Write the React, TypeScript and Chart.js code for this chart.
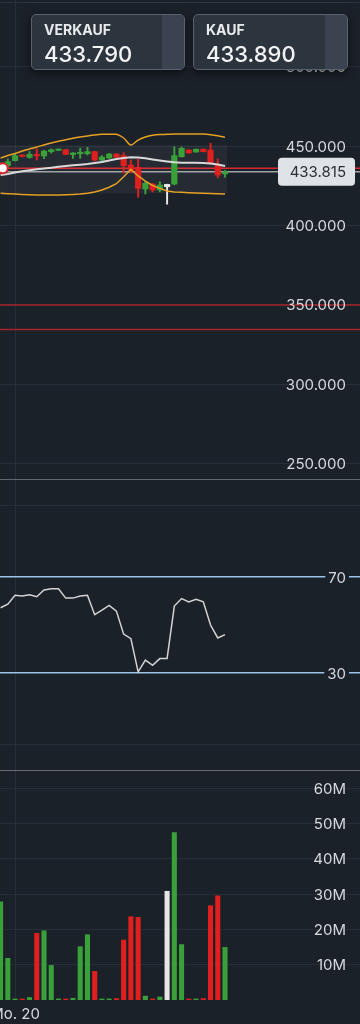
import React, { useEffect, useRef } from 'react';
import { Chart, registerables } from 'chart.js';

Chart.register(...registerables);

// ---------- data ----------
const candleOpen = [436.2, 437.7, 440.8, 444.1, 442.9, 444.7, 443.8, 446.5, 447.3, 447.7, 444.7, 445.2, 445.2, 446.5, 441.2, 442.5, 445.0, 444.0, 438.1, 436.7, 423.0, 426.1, 422.4, 424.4, 426.1, 443.3, 447.5, 446.3, 448.0, 447.5, 438.1, 432.5];
const candleClose = [438.1, 440.2, 444.0, 443.5, 444.8, 443.8, 446.9, 447.7, 447.4, 444.8, 445.7, 446.1, 446.5, 441.2, 443.1, 445.0, 442.9, 437.7, 435.0, 423.4, 426.6, 422.4, 425.5, 425.9, 444.0, 448.6, 445.7, 448.0, 446.5, 439.2, 431.8, 433.9];
const candleHigh = [439.4, 441.9, 445.0, 444.5, 446.5, 448.2, 447.4, 448.2, 447.6, 448.0, 445.9, 448.8, 449.2, 446.8, 444.0, 445.4, 445.2, 445.8, 441.2, 441.7, 427.6, 426.4, 427.6, 426.0, 449.6, 449.4, 447.8, 448.2, 448.3, 451.8, 441.9, 434.6];
const candleLow = [434.3, 436.4, 440.6, 443.2, 442.3, 441.2, 442.1, 445.6, 447.1, 444.6, 442.2, 442.3, 444.4, 440.6, 440.6, 442.3, 442.7, 432.9, 433.1, 417.8, 419.8, 421.1, 421.1, 413.4, 425.5, 443.1, 445.5, 446.1, 446.3, 438.7, 430.1, 430.5];

const bollingerUpper = [442.5, 444.1, 445.3, 446.9, 448.2, 449.4, 450.7, 452.0, 453.0, 454.0, 454.9, 455.7, 456.4, 457.0, 457.4, 457.4, 457.4, 455.1, 450.7, 453.8, 455.7, 456.8, 457.3, 457.4, 457.6, 457.6, 457.6, 457.6, 457.6, 457.2, 456.5, 455.5];
const bollingerMiddle = [431.8, 432.5, 433.4, 434.1, 434.8, 435.4, 435.9, 436.4, 437.0, 437.5, 437.9, 438.3, 438.7, 439.4, 440.0, 440.9, 441.9, 442.5, 442.9, 442.8, 442.3, 441.6, 440.9, 440.3, 439.8, 439.5, 439.5, 439.5, 439.4, 439.0, 438.4, 437.5];
const bollingerLower = [420.3, 420.0, 419.8, 419.6, 419.4, 419.2, 419.2, 419.2, 419.2, 419.4, 419.6, 419.8, 420.3, 421.1, 422.4, 424.1, 426.3, 430.7, 435.4, 431.2, 428.0, 425.2, 423.4, 421.7, 421.1, 420.9, 420.7, 420.5, 420.3, 420.2, 420.0, 419.8];

const rsiValues = [57.2, 58.7, 62.4, 62.1, 62.6, 61.8, 64.6, 65.1, 65.1, 61.2, 61.2, 62.1, 62.4, 54.3, 56.2, 58.2, 55.8, 46.2, 44.3, 30.5, 35.4, 33.2, 36.0, 36.0, 57.9, 61.0, 59.6, 60.7, 59.7, 50.0, 44.6, 46.0];

const volumeMillions = [27.8, 11.8, 0.3, 0.3, 0.7, 18.9, 19.6, 9.8, 0.3, 0.3, 0.5, 15.1, 18.5, 8.1, 0.3, 0.3, 0.4, 17.0, 23.6, 23.4, 1.1, 0.3, 0.85, 30.8, 47.4, 15.7, 0.3, 0.3, 0.4, 26.7, 29.5, 14.9];

const selectedIndex = 23;

const priceTicks = [250, 300, 350, 400, 450, 500];
const rsiTicks = [0, 30, 70, 100];
const rsiLabelled = [30, 70];
const volumeTicks = [10, 20, 30, 40, 50, 60];

const xTickIndex = [2];
const xTickLabels = ['Mo. 20'];

const levelValues = [436.0, 433.815, 350.0, 334.5];
const lastPrice = 433.815;
const markerPoint = [{ x: 0.3, y: 436.0 }];

const bandBoxFrom = -0.5;
const bandBoxTo = 31.3;
const bandBoxTop = 450.6;
const bandBoxBottom = 420.3;

const quoteLabels = ['VERKAUF', 'KAUF'];
const quoteValues = ['433.790', '433.890'];

// ---------- styles ----------
const BG = '#1b2129';
const GRID = '#272e37';
const TICK = '#d6d9dd';
const GREEN = '#3aa13a';
const RED = '#e0201f';
const WHITE = '#e6e6e6';
const ORANGE = '#e6a124';
const FONT = 'Inter, "Noto Sans", sans-serif';
const levelColors = ['#d9262c', '#9ea3a8', '#a8222a', '#a8222a'];

const X_MIN = -0.0787;
const X_MAX = 49.646;

const candleColor = (i: number) =>
  i === selectedIndex ? WHITE : candleClose[i] >= candleOpen[i] ? GREEN : RED;

const noPad = (s: any) => {
  s.paddingLeft = 0;
  s.paddingRight = 0;
  s.paddingTop = 0;
  s.paddingBottom = 0;
};

const xScale = (showLabels: boolean, height: number) => ({
  type: 'linear',
  min: X_MIN,
  max: X_MAX,
  offset: false,
  position: 'bottom',
  afterBuildTicks: (s: any) => { s.ticks = xTickIndex.map((v) => ({ value: v })); },
  afterFit: (s: any) => { s.height = height; noPad(s); },
  grid: { color: GRID, lineWidth: 1, drawTicks: false, offset: false },
  border: { display: false },
  ticks: {
    display: showLabels,
    color: TICK,
    font: { family: FONT, size: 15 },
    padding: 5,
    maxRotation: 0,
    autoSkip: false,
    callback: (v: any) => {
      const k = xTickIndex.indexOf(Number(v));
      return k >= 0 ? xTickLabels[k] : '';
    },
  },
});

const yScale = (min: number, max: number, ticks: number[], grid: any) => ({
  type: 'linear',
  position: 'right',
  min,
  max,
  afterFit: (s: any) => { s.width = 0; noPad(s); },
  afterBuildTicks: (s: any) => { s.ticks = ticks.map((v) => ({ value: v })); },
  grid: { drawTicks: false, ...grid },
  border: { display: false },
  ticks: { display: false },
});

// draws the y-scale tick labels inside the plot, right aligned, like the app does
const makeYLabelPlugin = (format: (v: number) => string, show: (v: number) => boolean, backdrop: boolean) => ({
  id: 'yLabels',
  beforeDatasetsDraw(chart: any) {
    const { ctx, chartArea, scales } = chart;
    const y = scales.y;
    ctx.save();
    ctx.font = `15px ${FONT}`;
    ctx.textAlign = 'right';
    ctx.textBaseline = 'middle';
    y.ticks.forEach((t: any) => {
      if (!show(t.value)) return;
      const py = y.getPixelForValue(t.value);
      const text = format(t.value);
      const xr = chartArea.right - 14;
      if (backdrop) {
        const w = ctx.measureText(text).width;
        ctx.fillStyle = BG;
        ctx.fillRect(xr - w - 3, py - 8, w + 6, 16);
      }
      ctx.fillStyle = TICK;
      ctx.fillText(text, xr, py + 1);
    });
    ctx.restore();
  },
});

const levelPlugin = {
  id: 'levels',
  beforeDatasetsDraw(chart: any) {
    const { ctx, chartArea, scales } = chart;
    ctx.save();
    levelValues.forEach((v, i) => {
      const y = scales.y.getPixelForValue(v);
      ctx.strokeStyle = levelColors[i];
      ctx.lineWidth = 1.5;
      ctx.beginPath();
      ctx.moveTo(chartArea.left, y);
      ctx.lineTo(chartArea.right, y);
      ctx.stroke();
    });
    ctx.restore();
  },
};

const priceTagPlugin = {
  id: 'priceTag',
  afterDraw(chart: any) {
    const { ctx, chartArea, scales } = chart;
    const y = scales.y.getPixelForValue(lastPrice);
    const right = chartArea.right - 5;
    const left = chartArea.right - 82;
    const h = 28;
    ctx.save();
    ctx.fillStyle = '#dfe2e6';
    ctx.beginPath();
    (ctx as any).roundRect(left, y - h / 2, right - left, h, 4);
    ctx.fill();
    ctx.fillStyle = '#2b3038';
    ctx.font = `15px ${FONT}`;
    ctx.textAlign = 'right';
    ctx.textBaseline = 'middle';
    ctx.fillText(lastPrice.toFixed(3), chartArea.right - 14, y + 1);
    ctx.restore();
  },
};

const baseOptions = {
  responsive: false,
  animation: false,
  layout: { padding: 0, autoPadding: false },
  plugins: { legend: { display: false }, tooltip: { enabled: false } },
};

function PriceChart() {
  const ref = useRef<HTMLCanvasElement>(null);
  useEffect(() => {
    const idx = candleOpen.map((_, i) => i);
    const chart = new Chart(ref.current as HTMLCanvasElement, {
      type: 'line',
      data: {
        datasets: [
          {
            type: 'line',
            data: [{ x: bandBoxFrom, y: bandBoxTop }, { x: bandBoxTo, y: bandBoxTop }],
            borderWidth: 0,
            pointRadius: 0,
            fill: '+1',
            backgroundColor: 'rgba(190,190,190,0.07)',
            order: 20,
          },
          {
            type: 'line',
            data: [{ x: bandBoxFrom, y: bandBoxBottom }, { x: bandBoxTo, y: bandBoxBottom }],
            borderWidth: 0,
            pointRadius: 0,
            fill: false,
            order: 19,
          },
          {
            type: 'bar',
            data: idx.map((i) => ({ x: i, y: [candleLow[i], candleHigh[i]] })),
            backgroundColor: idx.map(candleColor),
            barThickness: 1.3,
            grouped: false,
            order: 10,
          },
          {
            type: 'bar',
            data: idx.map((i) => ({ x: i, y: [candleOpen[i], candleClose[i]] })),
            backgroundColor: idx.map(candleColor),
            barThickness: 5.5,
            minBarLength: 1.5,
            grouped: false,
            order: 9,
          },
          {
            type: 'line',
            data: idx.map((i) => ({ x: i, y: bollingerMiddle[i] })),
            borderColor: '#d9d9d9',
            borderWidth: 2,
            pointRadius: 0,
            fill: false,
            order: 3,
          },
          {
            type: 'line',
            data: idx.map((i) => ({ x: i, y: bollingerUpper[i] })),
            borderColor: ORANGE,
            borderWidth: 1.5,
            pointRadius: 0,
            tension: 0.3,
            fill: false,
            order: 2,
          },
          {
            type: 'line',
            data: idx.map((i) => ({ x: i, y: bollingerLower[i] })),
            borderColor: ORANGE,
            borderWidth: 1.5,
            pointRadius: 0,
            fill: false,
            order: 2,
          },
          {
            type: 'scatter',
            data: markerPoint,
            pointRadius: 5,
            pointBackgroundColor: '#ffffff',
            pointBorderColor: '#d9262c',
            pointBorderWidth: 2,
            order: 0,
          },
        ],
      } as any,
      options: {
        ...baseOptions,
        scales: {
          x: xScale(false, 0) as any,
          y: yScale(240.37, 542.0, priceTicks, { color: GRID }) as any,
        },
      } as any,
      plugins: [levelPlugin, makeYLabelPlugin((v) => v.toFixed(3), () => true, false), priceTagPlugin],
    });
    return () => chart.destroy();
  }, []);
  return <canvas ref={ref} width={360} height={479} style={{ display: 'block', position: 'absolute', left: 0, top: 0 }} />;
}

function RsiChart() {
  const ref = useRef<HTMLCanvasElement>(null);
  useEffect(() => {
    const chart = new Chart(ref.current as HTMLCanvasElement, {
      type: 'line',
      data: {
        datasets: [
          {
            data: rsiValues.map((v, i) => ({ x: i, y: v })),
            borderColor: '#d3d3d3',
            borderWidth: 1.5,
            pointRadius: 0,
            fill: false,
          },
        ],
      },
      options: {
        ...baseOptions,
        scales: {
          x: xScale(false, 0) as any,
          y: yScale(-10.42, 110.42, rsiTicks, {
            color: (c: any) => (rsiLabelled.includes(c.tick?.value) ? '#9cc3e8' : GRID),
            lineWidth: (c: any) => (rsiLabelled.includes(c.tick?.value) ? 1.5 : 1),
          }) as any,
        },
      } as any,
      plugins: [makeYLabelPlugin((v) => String(v), (v) => rsiLabelled.includes(v), true)],
    });
    return () => chart.destroy();
  }, []);
  return <canvas ref={ref} width={360} height={290} style={{ display: 'block', position: 'absolute', left: 0, top: 480 }} />;
}

function VolumeChart() {
  const ref = useRef<HTMLCanvasElement>(null);
  useEffect(() => {
    const idx = volumeMillions.map((_, i) => i);
    const chart = new Chart(ref.current as HTMLCanvasElement, {
      type: 'bar',
      data: {
        datasets: [
          {
            data: idx.map((i) => ({ x: i, y: volumeMillions[i] })),
            backgroundColor: idx.map(candleColor),
            barThickness: 4.4,
            grouped: false,
          },
        ],
      } as any,
      options: {
        ...baseOptions,
        scales: {
          x: xScale(true, 24) as any,
          y: yScale(0, 64.87, volumeTicks, { color: GRID }) as any,
        },
      } as any,
      plugins: [makeYLabelPlugin((v) => `${v}M`, () => true, false)],
    });
    return () => chart.destroy();
  }, []);
  return <canvas ref={ref} width={360} height={253} style={{ display: 'block', position: 'absolute', left: 0, top: 771 }} />;
}

function QuoteBox({ label, value, left, width }: { label: string; value: string; left: number; width: number }) {
  return (
    <div
      style={{
        position: 'absolute',
        left,
        top: 14,
        width,
        height: 56,
        boxSizing: 'border-box',
        border: '1px solid #5a626d',
        borderRadius: 5,
        background: '#2c343e',
        overflow: 'hidden',
        boxShadow: '0 3px 8px rgba(0,0,0,0.55)',
        fontFamily: FONT,
      }}
    >
      <div style={{ position: 'absolute', right: 0, top: 0, bottom: 0, width: 22, background: '#3a434f' }} />
      <div style={{ position: 'absolute', left: 12, top: 8, fontSize: 14, lineHeight: '14px', fontWeight: 700, color: '#e8eaec' }}>{label}</div>
      <div style={{ position: 'absolute', left: 12, top: 28, fontSize: 22, lineHeight: '22px', fontWeight: 500, color: '#f2f3f4' }}>{value}</div>
    </div>
  );
}

export default function App() {
  useEffect(() => {
    document.body.style.margin = '0';
    document.body.style.background = BG;
  }, []);
  return (
    <div style={{ position: 'relative', width: 360, height: 1024, background: BG, overflow: 'hidden' }}>
      <div style={{ position: 'absolute', left: 0, top: 2, width: 360, height: 1, background: '#2d343d' }} />
      <PriceChart />
      <div style={{ position: 'absolute', left: 0, top: 479, width: 360, height: 1, background: '#60666e' }} />
      <RsiChart />
      <div style={{ position: 'absolute', left: 0, top: 770, width: 360, height: 1, background: '#676c74' }} />
      <VolumeChart />
      <QuoteBox label={quoteLabels[0]} value={quoteValues[0]} left={31} width={154} />
      <QuoteBox label={quoteLabels[1]} value={quoteValues[1]} left={193} width={155} />
    </div>
  );
}
